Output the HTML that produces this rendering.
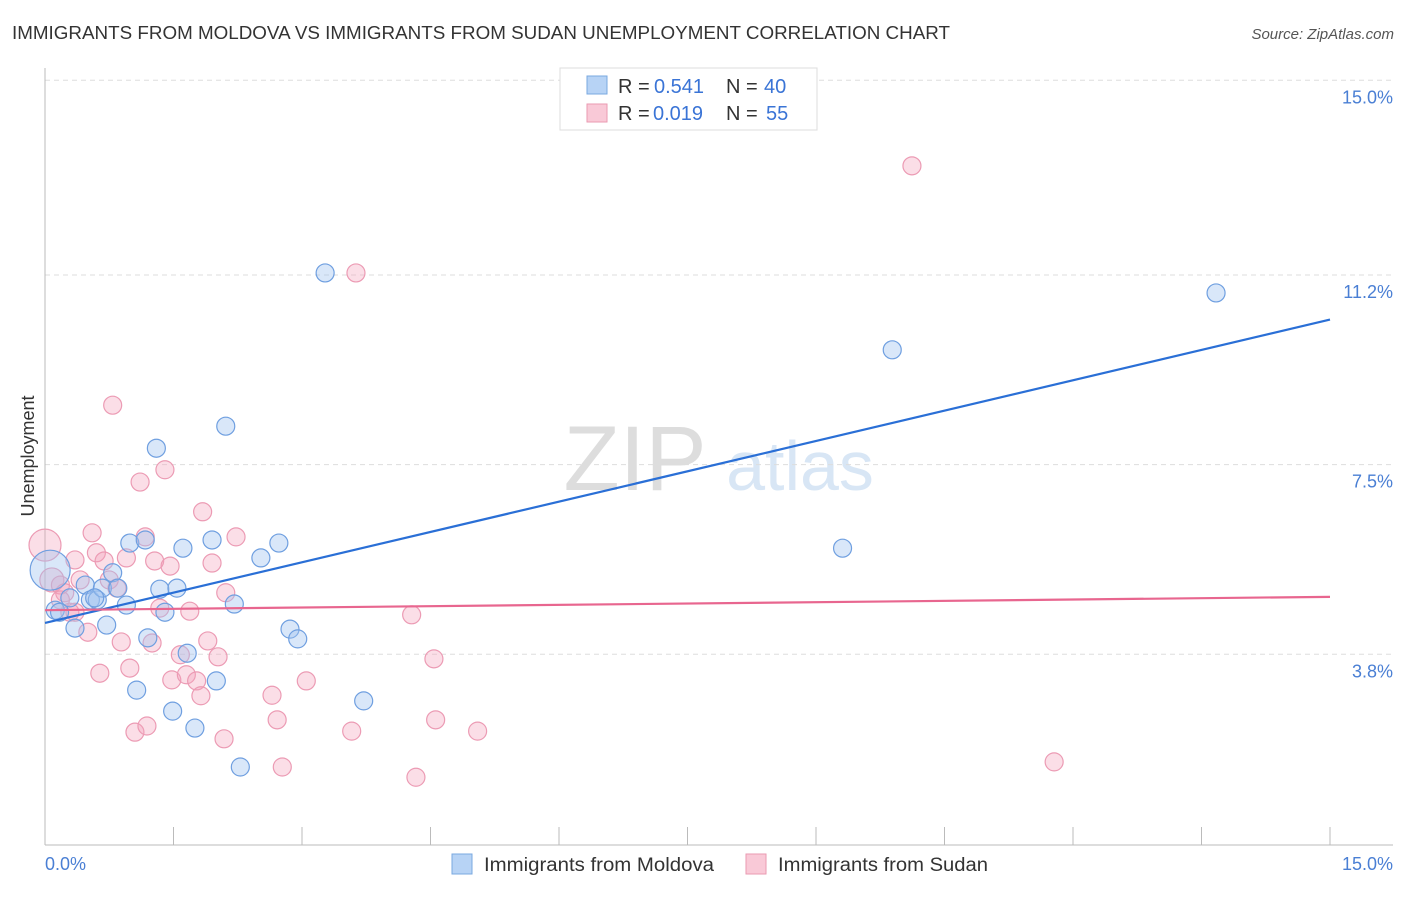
<!DOCTYPE html>
<html><head><meta charset="utf-8"><style>
body{margin:0;background:#fff;font-family:"Liberation Sans",sans-serif}
svg text{font-family:"Liberation Sans",sans-serif}
</style></head><body>
<svg id="chart" width="1406" height="892" viewBox="0 0 1406 892" xmlns="http://www.w3.org/2000/svg">
<text x="12" y="39" font-size="18" textLength="938" lengthAdjust="spacingAndGlyphs" fill="#333">IMMIGRANTS FROM MOLDOVA VS IMMIGRANTS FROM SUDAN UNEMPLOYMENT CORRELATION CHART</text>
<text x="1394" y="39" font-size="15" fill="#555" font-style="italic" text-anchor="end">Source: ZipAtlas.com</text>
<g>
<text x="635" y="490" font-size="92" fill="#ddd" font-family="Liberation Serif" text-anchor="middle">ZIP</text>
<text x="800" y="490" font-size="70" fill="#d8e6f5" text-anchor="middle">atlas</text>
</g>
<g id="grid"></g>
<g id="axes"></g>
<g id="points"></g>
<g id="lines"></g>
<text transform="translate(34,456) rotate(-90)" font-size="18" fill="#333" text-anchor="middle">Unemployment</text>
<text x="45" y="870" font-size="18" fill="#4a7fd4">0.0%</text>
<text x="1393" y="870" font-size="18" fill="#4a7fd4" text-anchor="end">15.0%</text>
<g>
<rect x="560" y="68" width="257" height="62" fill="#fff" stroke="#ddd"/>
<rect x="587" y="76" width="20" height="18" fill="#b7d3f5" stroke="#7aa8e0"/>
<text x="618" y="93" font-size="20" fill="#333">R =</text>
<text x="654" y="93" font-size="20" fill="#3a74d6">0.541</text>
<text x="726" y="93" font-size="20" fill="#333">N =</text>
<text x="764" y="93" font-size="20" fill="#3a74d6">40</text>
<rect x="587" y="104" width="20" height="18" fill="#f9c9d7" stroke="#ea9ab2"/>
<text x="618" y="120" font-size="20" fill="#333">R =</text>
<text x="653" y="120" font-size="20" fill="#3a74d6">0.019</text>
<text x="726" y="120" font-size="20" fill="#333">N =</text>
<text x="766" y="120" font-size="20" fill="#3a74d6">55</text>
</g>
<g>
<rect x="452" y="854" width="20" height="20" fill="#b7d3f5" stroke="#7aa8e0"/>
<text x="484" y="871" font-size="19" textLength="230" lengthAdjust="spacingAndGlyphs" fill="#333">Immigrants from Moldova</text>
<rect x="746" y="854" width="20" height="20" fill="#f9c9d7" stroke="#ea9ab2"/>
<text x="778" y="871" font-size="19" textLength="210" lengthAdjust="spacingAndGlyphs" fill="#333">Immigrants from Sudan</text>
</g>
</svg>
<script>
const yTicks=[3.8,7.5,11.2,15.0];
const yTickLabels=["3.8%","7.5%","11.2%","15.0%"];
const moldovaX=[.12,.17,.29,.47,.53,.61,.67,.72,.79,.85,.95,.99,1.07,1.17,1.20,1.30,1.34,1.40,1.49,1.54,1.61,1.66,1.75,1.95,2.00,2.11,2.21,2.28,2.52,2.73,2.86,2.95,3.27,3.72,9.31,9.89,13.67,.06,.35,.58];
const moldovaY=[4.66,4.62,4.90,5.15,4.86,4.86,5.09,4.37,5.39,5.09,4.76,5.97,3.10,6.03,4.12,7.82,5.07,4.62,2.69,5.09,5.87,3.82,2.36,6.03,3.28,8.25,4.78,1.60,5.68,5.97,4.29,4.10,11.24,2.89,5.87,9.74,10.85,5.44,4.31,4.90];
const moldovaR=[9,9,9,9,9,9,9,9,9,9,9,9,9,9,9,9,9,9,9,9,9,9,9,9,9,9,9,9,9,9,9,9,9,9,9,9,9,20,9,9];
const sudanX=[.08,0,.18,.23,.29,.35,.41,.50,.55,.60,.64,.69,.75,.79,.84,.89,.95,.99,1.05,1.11,1.17,1.19,1.25,1.28,1.34,1.40,1.46,1.48,1.58,1.65,1.69,1.77,1.82,1.84,1.90,1.95,2.02,2.09,2.11,2.23,2.65,2.71,2.77,3.05,3.58,3.63,4.28,4.33,4.54,4.56,5.05,10.12,11.78,.18,.35];
const sudanY=[5.25,5.93,5.15,5.00,4.62,5.64,5.25,4.23,6.17,5.78,3.43,5.62,5.25,8.66,5.09,4.04,5.68,3.53,2.28,7.16,6.09,2.40,4.02,5.62,4.70,7.40,5.52,3.30,3.79,3.40,4.64,3.28,2.99,6.58,4.06,5.58,3.75,2.15,5.00,6.09,3.00,2.52,1.60,3.28,2.30,11.24,4.57,1.40,3.71,2.52,2.30,13.33,1.70,4.86,4.62];
const sudanR=[12,16,9,9,9,9,9,9,9,9,9,9,9,9,9,9,9,9,9,9,9,9,9,9,9,9,9,9,9,9,9,9,9,9,9,9,9,9,9,9,9,9,9,9,9,9,9,9,9,9,9,9,9,9,9];
const trendX=[0,15];
const moldovaTrend=[4.41,10.33];
const sudanTrend=[4.66,4.92];
const NS="http://www.w3.org/2000/svg";
const X=v=>45+v*(1285/15);
const Y=v=>849-v*51.25;
function mk(tag,attrs,parent){const e=document.createElementNS(NS,tag);for(const k in attrs)e.setAttribute(k,attrs[k]);document.getElementById(parent).appendChild(e);return e;}
yTicks.forEach((t,i)=>{
 const g=mk('line',{x1:45,x2:1393,y1:Y(t),y2:Y(t),stroke:'#ddd','stroke-dasharray':'5,4'},'grid');
 
 
 const l=mk('text',{x:1393,y:Y(t)+23,'font-size':18,fill:'#4a7fd4','text-anchor':'end'},'grid');
 l.textContent=yTickLabels[i];
 
 
});
const ax=mk('line',{x1:45,x2:45,y1:68,y2:845,stroke:'#bbb'},'axes');


const bx=mk('line',{x1:45,x2:1393,y1:845,y2:845,stroke:'#bbb'},'axes');


for(let i=0;i<=10;i++){
 const t=mk('line',{x1:X(i*1.5),x2:X(i*1.5),y1:827,y2:845,stroke:'#bbb'},'axes');
 
 
}
sudanX.forEach((v,i)=>{
 const c=mk('circle',{cx:X(v),cy:Y(sudanY[i]),r:sudanR[i],fill:'rgba(244,160,185,0.35)',stroke:'#ec9bb4','stroke-width':1.2},'points');
 
 
});
moldovaX.forEach((v,i)=>{
 const c=mk('circle',{cx:X(v),cy:Y(moldovaY[i]),r:moldovaR[i],fill:'rgba(160,196,240,0.4)',stroke:'#6f9fe0','stroke-width':1.2},'points');
 
 
});
const lb=mk('line',{x1:X(trendX[0]),x2:X(trendX[1]),y1:Y(moldovaTrend[0]),y2:Y(moldovaTrend[1]),stroke:'#2a6fd6','stroke-width':2.2},'lines');


const lp=mk('line',{x1:X(trendX[0]),x2:X(trendX[1]),y1:Y(sudanTrend[0]),y2:Y(sudanTrend[1]),stroke:'#e8668f','stroke-width':2.2},'lines');


</script>
</body></html>
